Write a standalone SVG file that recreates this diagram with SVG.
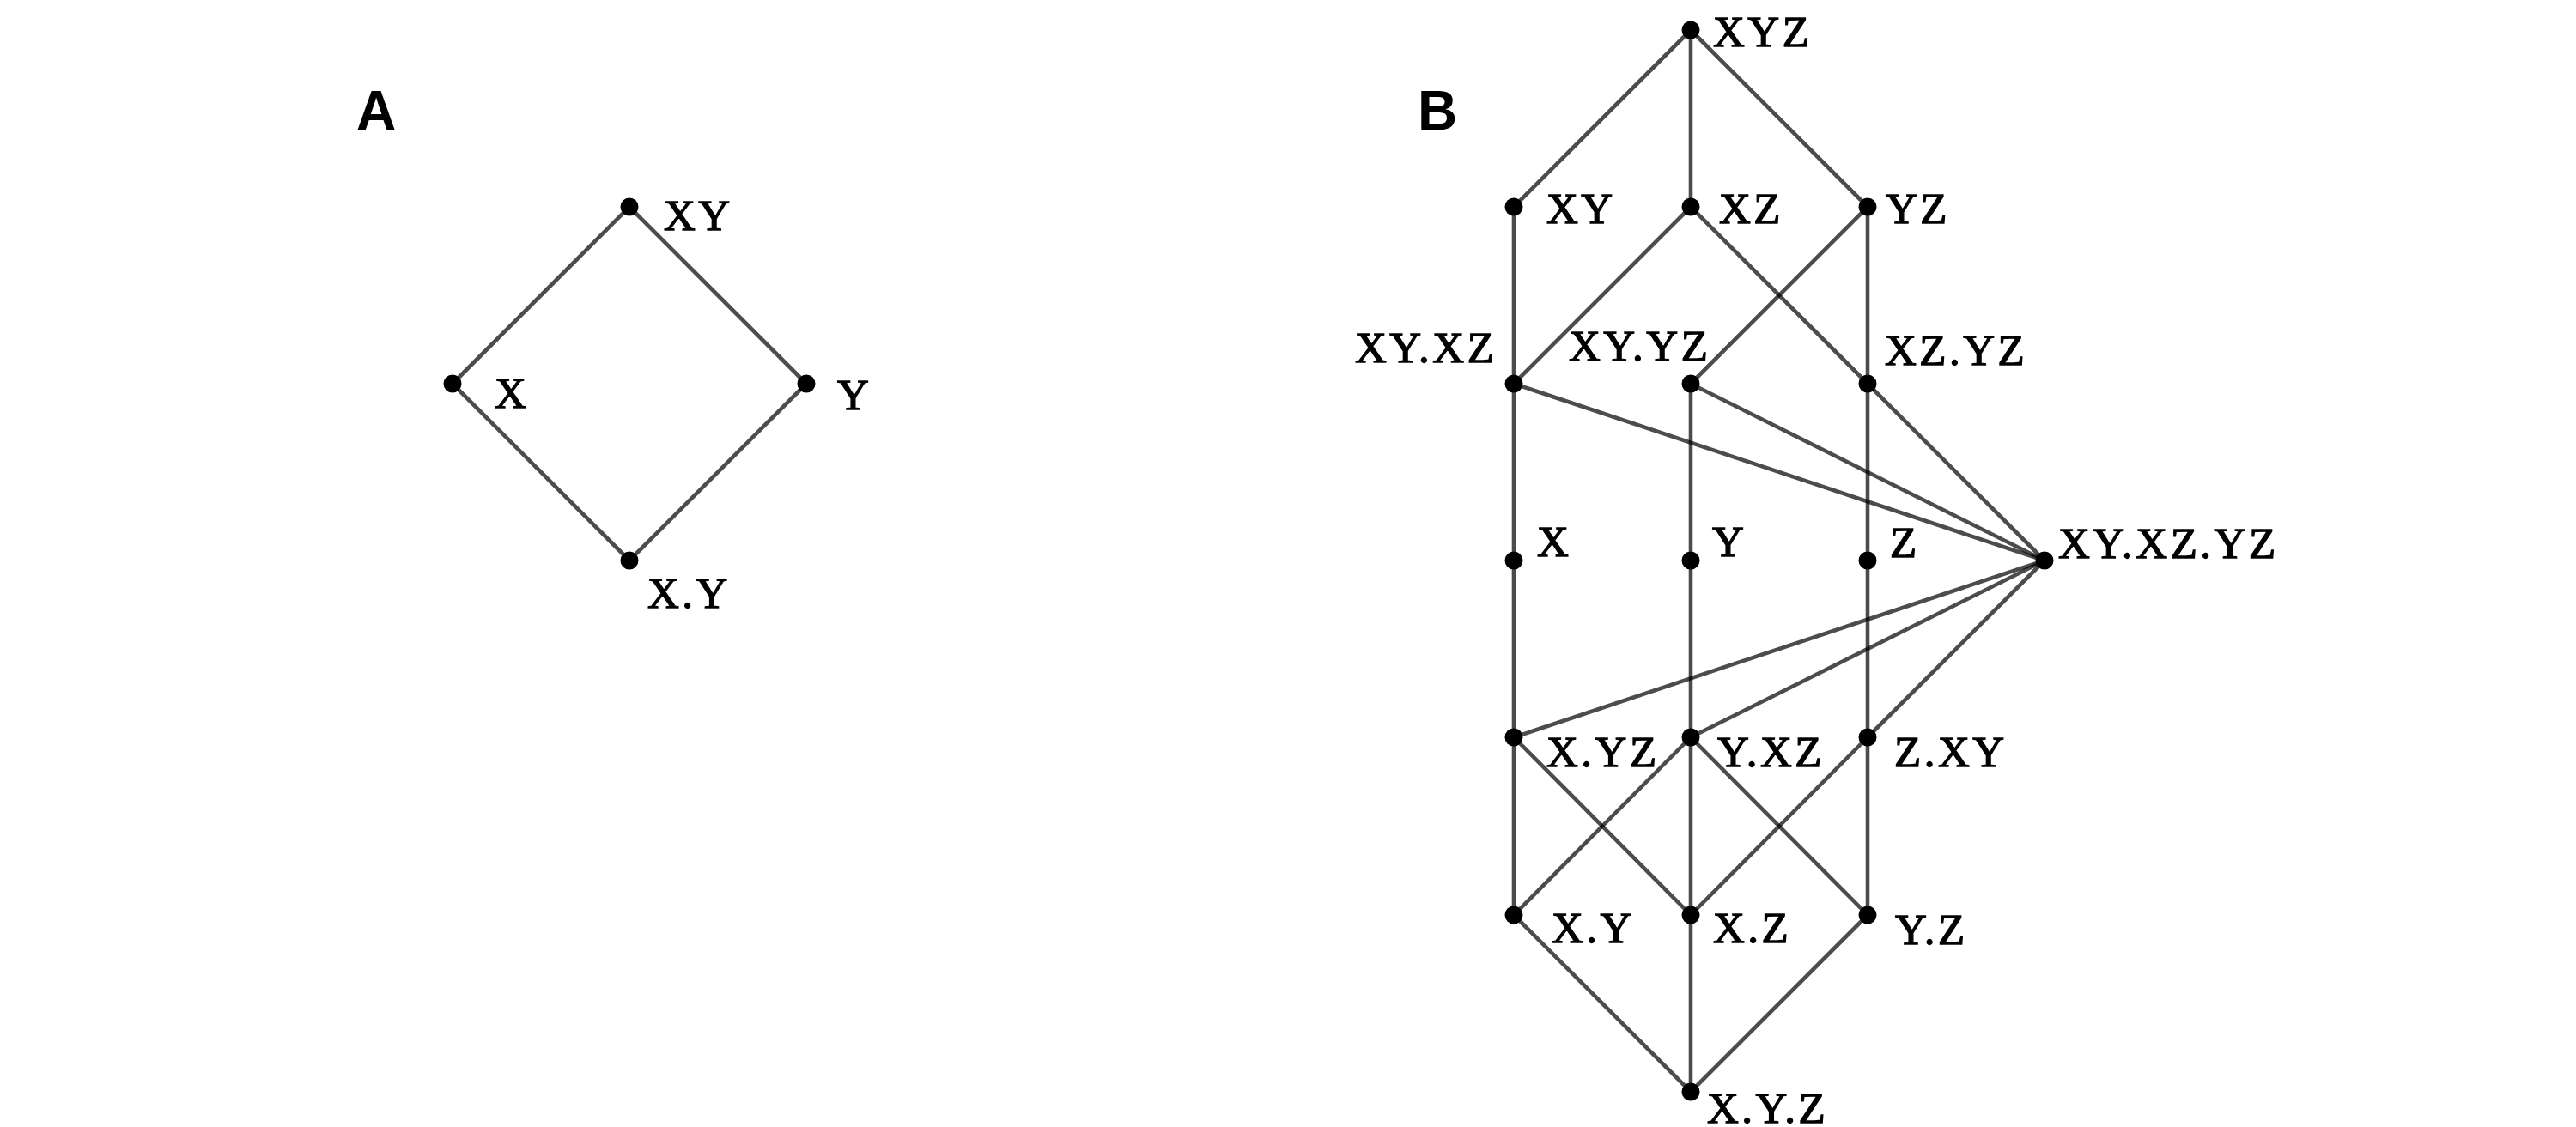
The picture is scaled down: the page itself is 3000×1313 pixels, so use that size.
<svg xmlns="http://www.w3.org/2000/svg" width="3000" height="1313" viewBox="0 0 3000 1313">
<style>
.e{stroke:#000;stroke-opacity:0.7;stroke-width:4.6;fill:none;stroke-linecap:round}
.d{fill:#000}
.t{font-family:"Liberation Serif","Times New Roman",serif;font-size:51px;letter-spacing:3.5px;fill:#000;stroke:#000;stroke-width:1.3px}
.p{font-family:"Liberation Sans",Arial,sans-serif;font-size:64px;font-weight:bold;fill:#000}
</style>
<rect width="3000" height="1313" fill="#fff"/>
<text class="p" x="415" y="151">A</text>
<text class="p" x="1651" y="151">B</text>
<g id="connectors">
<line class="e" x1="733" y1="241" x2="527" y2="447"/>
<line class="e" x1="733" y1="241" x2="939" y2="447"/>
<line class="e" x1="527" y1="447" x2="733" y2="653"/>
<line class="e" x1="939" y1="447" x2="733" y2="653"/>
<line class="e" x1="1969" y1="35" x2="1763" y2="241"/>
<line class="e" x1="1969" y1="35" x2="1969" y2="241"/>
<line class="e" x1="1969" y1="35" x2="2175" y2="241"/>
<line class="e" x1="1763" y1="241" x2="1763" y2="447"/>
<line class="e" x1="1969" y1="241" x2="1763" y2="447"/>
<line class="e" x1="1969" y1="241" x2="2175" y2="447"/>
<line class="e" x1="2175" y1="241" x2="1969" y2="447"/>
<line class="e" x1="2175" y1="241" x2="2175" y2="447"/>
<line class="e" x1="1763" y1="447" x2="1763" y2="653"/>
<line class="e" x1="1969" y1="447" x2="1969" y2="653"/>
<line class="e" x1="2175" y1="447" x2="2175" y2="653"/>
<line class="e" x1="1763" y1="447" x2="2381" y2="653"/>
<line class="e" x1="1969" y1="447" x2="2381" y2="653"/>
<line class="e" x1="2175" y1="447" x2="2381" y2="653"/>
<line class="e" x1="1763" y1="653" x2="1763" y2="859"/>
<line class="e" x1="1969" y1="653" x2="1969" y2="859"/>
<line class="e" x1="2175" y1="653" x2="2175" y2="859"/>
<line class="e" x1="1763" y1="859" x2="2381" y2="653"/>
<line class="e" x1="1969" y1="859" x2="2381" y2="653"/>
<line class="e" x1="2175" y1="859" x2="2381" y2="653"/>
<line class="e" x1="1763" y1="859" x2="1763" y2="1066"/>
<line class="e" x1="1763" y1="859" x2="1969" y2="1066"/>
<line class="e" x1="1969" y1="859" x2="1763" y2="1066"/>
<line class="e" x1="1969" y1="859" x2="1969" y2="1066"/>
<line class="e" x1="1969" y1="859" x2="2175" y2="1066"/>
<line class="e" x1="2175" y1="859" x2="1969" y2="1066"/>
<line class="e" x1="2175" y1="859" x2="2175" y2="1066"/>
<line class="e" x1="1763" y1="1066" x2="1969" y2="1272"/>
<line class="e" x1="1969" y1="1066" x2="1969" y2="1272"/>
<line class="e" x1="2175" y1="1066" x2="1969" y2="1272"/>
</g>
<g id="a-XY"><circle class="d" cx="733" cy="241" r="10.5"/><text class="t" x="773" y="268">XY</text></g>
<g id="a-X"><circle class="d" cx="527" cy="447" r="10.5"/><text class="t" x="576" y="475">X</text></g>
<g id="a-Y"><circle class="d" cx="939" cy="447" r="10.5"/><text class="t" x="975" y="477">Y</text></g>
<g id="a-X.Y"><circle class="d" cx="733" cy="653" r="10.5"/><text class="t" x="754" y="708">X.Y</text></g>
<g id="b-XYZ"><circle class="d" cx="1969" cy="35" r="10.5"/><text class="t" x="1995" y="54">XYZ</text></g>
<g id="b-XY"><circle class="d" cx="1763" cy="241" r="10.5"/><text class="t" x="1801" y="260">XY</text></g>
<g id="b-XZ"><circle class="d" cx="1969" cy="241" r="10.5"/><text class="t" x="2002" y="260">XZ</text></g>
<g id="b-YZ"><circle class="d" cx="2175" cy="241" r="10.5"/><text class="t" x="2196" y="260">YZ</text></g>
<g id="b-XY.XZ"><circle class="d" cx="1763" cy="447" r="10.5"/><text class="t" x="1578" y="422">XY.XZ</text></g>
<g id="b-XY.YZ"><circle class="d" cx="1969" cy="447" r="10.5"/><text class="t" x="1827" y="420">XY.YZ</text></g>
<g id="b-XZ.YZ"><circle class="d" cx="2175" cy="447" r="10.5"/><text class="t" x="2195" y="425">XZ.YZ</text></g>
<g id="b-X"><circle class="d" cx="1763" cy="653" r="10.5"/><text class="t" x="1790" y="648">X</text></g>
<g id="b-Y"><circle class="d" cx="1969" cy="653" r="10.5"/><text class="t" x="1994" y="648">Y</text></g>
<g id="b-Z"><circle class="d" cx="2175" cy="653" r="10.5"/><text class="t" x="2201" y="649">Z</text></g>
<g id="b-XY.XZ.YZ"><circle class="d" cx="2381" cy="653" r="10.5"/><text class="t" x="2397" y="650">XY.XZ.YZ</text></g>
<g id="b-X.YZ"><circle class="d" cx="1763" cy="859" r="10.5"/><text class="t" x="1801" y="893">X.YZ</text></g>
<g id="b-Y.XZ"><circle class="d" cx="1969" cy="859" r="10.5"/><text class="t" x="2000" y="893">Y.XZ</text></g>
<g id="b-Z.XY"><circle class="d" cx="2175" cy="859" r="10.5"/><text class="t" x="2206" y="893">Z.XY</text></g>
<g id="b-X.Y"><circle class="d" cx="1763" cy="1066" r="10.5"/><text class="t" x="1807" y="1098">X.Y</text></g>
<g id="b-X.Z"><circle class="d" cx="1969" cy="1066" r="10.5"/><text class="t" x="1995" y="1098">X.Z</text></g>
<g id="b-Y.Z"><circle class="d" cx="2175" cy="1066" r="10.5"/><text class="t" x="2207" y="1100">Y.Z</text></g>
<g id="b-X.Y.Z"><circle class="d" cx="1969" cy="1272" r="10.5"/><text class="t" x="1988" y="1308">X.Y.Z</text></g>
</svg>
